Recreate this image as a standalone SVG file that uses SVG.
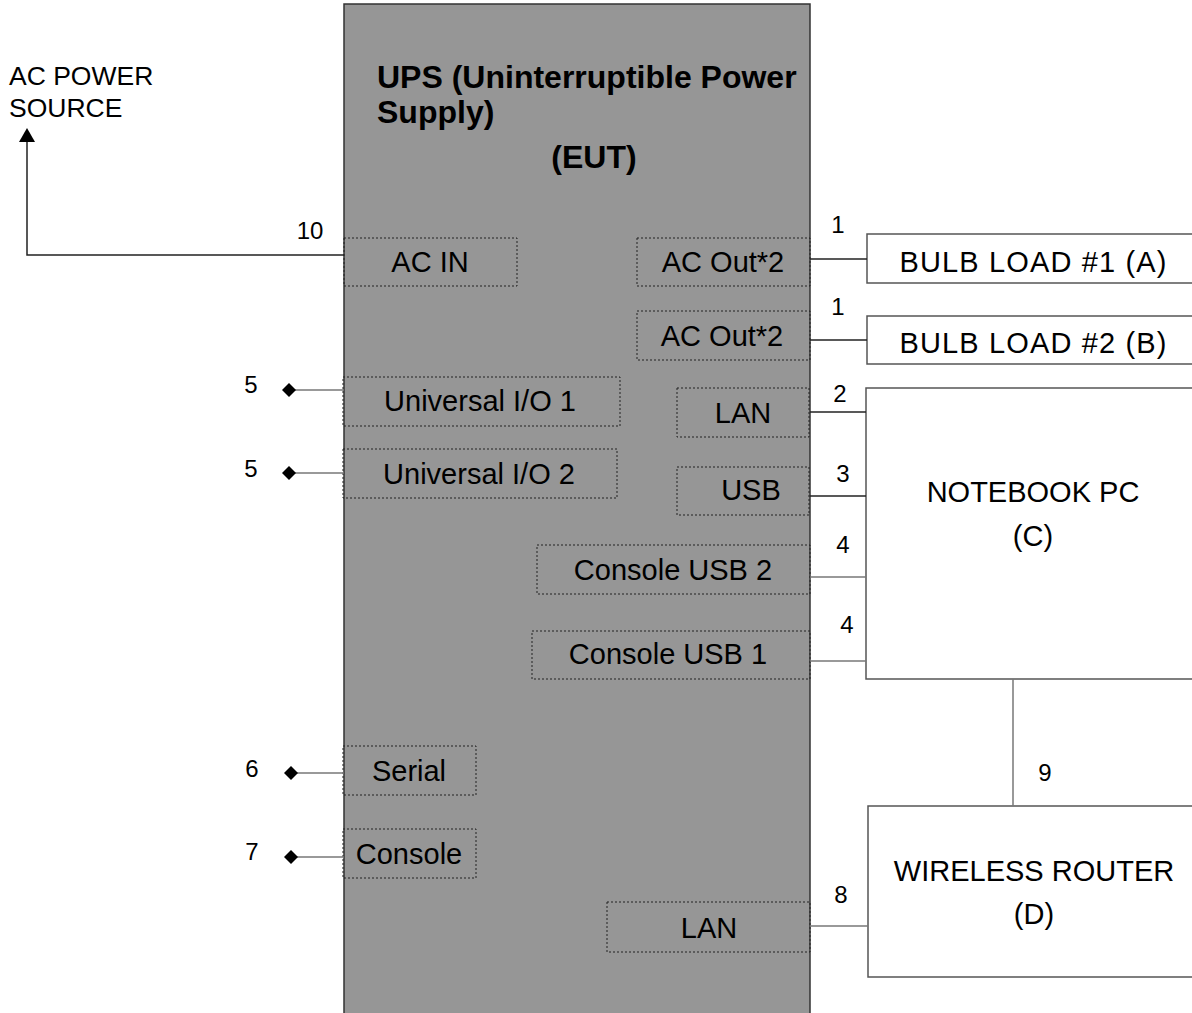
<svg xmlns="http://www.w3.org/2000/svg" width="1192" height="1013" viewBox="0 0 1192 1013">
<style>
text{font-family:"Liberation Sans",Arial,sans-serif;fill:#000}
.lbl{font-size:29px;text-anchor:middle}
.num{font-size:24px;text-anchor:middle}
.port{fill:none;stroke:#222;stroke-width:1;stroke-dasharray:2 2}
.box{fill:#fff;stroke:#555;stroke-width:1.5}
.wire{stroke:#222;stroke-width:1.5;fill:none}
.gwire{stroke:#777;stroke-width:1.5;fill:none}
.title{font-size:32px;font-weight:bold}
</style>
<defs>
<polygon id="dia" points="0,-7 7,0 0,7 -7,0" fill="#000"/>
</defs>
<rect width="1192" height="1013" fill="#fff"/>
<g id="ups">
<rect x="344" y="4" width="466" height="1020" fill="#969696" stroke="#333" stroke-width="1.5"/>
<text class="title" x="377" y="88">UPS (Uninterruptible Power</text>
<text class="title" x="377" y="123">Supply)</text>
<text class="title" x="594" y="168" text-anchor="middle">(EUT)</text>
</g>
<g id="ports">
<g id="p-acin"><rect class="port" x="344" y="238" width="173" height="48"/><text class="lbl" x="430" y="272">AC IN</text></g>
<g id="p-acout1"><rect class="port" x="637" y="238" width="173" height="48"/><text class="lbl" x="723" y="272">AC Out*2</text></g>
<g id="p-acout2"><rect class="port" x="637" y="311" width="173" height="49"/><text class="lbl" x="722" y="346">AC Out*2</text></g>
<g id="p-uio1"><rect class="port" x="343" y="377" width="277" height="49"/><text class="lbl" x="480" y="411">Universal I/O 1</text></g>
<g id="p-uio2"><rect class="port" x="343" y="449" width="274" height="49"/><text class="lbl" x="479" y="484">Universal I/O 2</text></g>
<g id="p-lan1"><rect class="port" x="677" y="388" width="132" height="49"/><text class="lbl" x="743" y="423">LAN</text></g>
<g id="p-usb"><rect class="port" x="677" y="467" width="132" height="48"/><text class="lbl" x="751" y="500">USB</text></g>
<g id="p-cusb2"><rect class="port" x="537" y="545" width="273" height="49"/><text class="lbl" x="673" y="580">Console USB 2</text></g>
<g id="p-cusb1"><rect class="port" x="532" y="631" width="278" height="48"/><text class="lbl" x="668" y="664">Console USB 1</text></g>
<g id="p-serial"><rect class="port" x="343" y="746" width="133" height="49"/><text class="lbl" x="409" y="781">Serial</text></g>
<g id="p-console"><rect class="port" x="343" y="829" width="133" height="49"/><text class="lbl" x="409" y="864">Console</text></g>
<g id="p-lan2"><rect class="port" x="607" y="902" width="203" height="50"/><text class="lbl" x="709" y="938">LAN</text></g>
</g>
<g id="acsource">
<text x="9" y="85" font-size="26.5">AC POWER</text>
<text x="9" y="117" font-size="26.5">SOURCE</text>
</g>
<g id="bulb1"><rect class="box" x="867" y="234" width="340" height="49"/><text class="lbl" x="1033" y="272" textLength="267" lengthAdjust="spacing">BULB LOAD #1 (A)</text></g>
<g id="bulb2"><rect class="box" x="867" y="316" width="340" height="48"/><text class="lbl" x="1033" y="353" textLength="267" lengthAdjust="spacing">BULB LOAD #2 (B)</text></g>
<g id="notebook"><rect class="box" x="866" y="388" width="340" height="291"/><text class="lbl" x="1033" y="502">NOTEBOOK PC</text><text class="lbl" x="1033" y="546">(C)</text></g>
<g id="router"><rect class="box" x="868" y="806" width="340" height="171"/><text class="lbl" x="1034" y="881">WIRELESS ROUTER</text><text class="lbl" x="1034" y="924">(D)</text></g>
<g id="connectors">
<polyline class="wire" points="344,255 27,255 27,140"/>
<polygon points="27,128 35,142 19,142" fill="#000"/>
<line class="wire" x1="810" y1="259" x2="867" y2="259"/>
<line class="wire" x1="810" y1="340" x2="867" y2="340"/>
<line class="wire" x1="810" y1="412" x2="866" y2="412"/>
<line class="wire" x1="810" y1="496" x2="866" y2="496"/>
<line class="gwire" x1="810" y1="577" x2="866" y2="577"/>
<line class="gwire" x1="810" y1="661" x2="866" y2="661"/>
<line class="gwire" x1="810" y1="926" x2="868" y2="926"/>
<line class="gwire" x1="1013" y1="679" x2="1013" y2="806" stroke-width="2"/>
<line class="gwire" x1="289" y1="390" x2="344" y2="390"/>
<line class="gwire" x1="289" y1="473" x2="344" y2="473"/>
<line class="gwire" x1="291" y1="773" x2="344" y2="773"/>
<line class="gwire" x1="291" y1="857" x2="344" y2="857"/>
<use href="#dia" x="289" y="390"/>
<use href="#dia" x="289" y="473"/>
<use href="#dia" x="291" y="773"/>
<use href="#dia" x="291" y="857"/>
<text class="num" x="310" y="239">10</text>
<text class="num" x="838" y="233">1</text>
<text class="num" x="838" y="315">1</text>
<text class="num" x="840" y="402">2</text>
<text class="num" x="843" y="482">3</text>
<text class="num" x="843" y="553">4</text>
<text class="num" x="847" y="633">4</text>
<text class="num" x="251" y="393">5</text>
<text class="num" x="251" y="477">5</text>
<text class="num" x="252" y="777">6</text>
<text class="num" x="252" y="860">7</text>
<text class="num" x="841" y="903">8</text>
<text class="num" x="1045" y="781">9</text>
</g>
</svg>
